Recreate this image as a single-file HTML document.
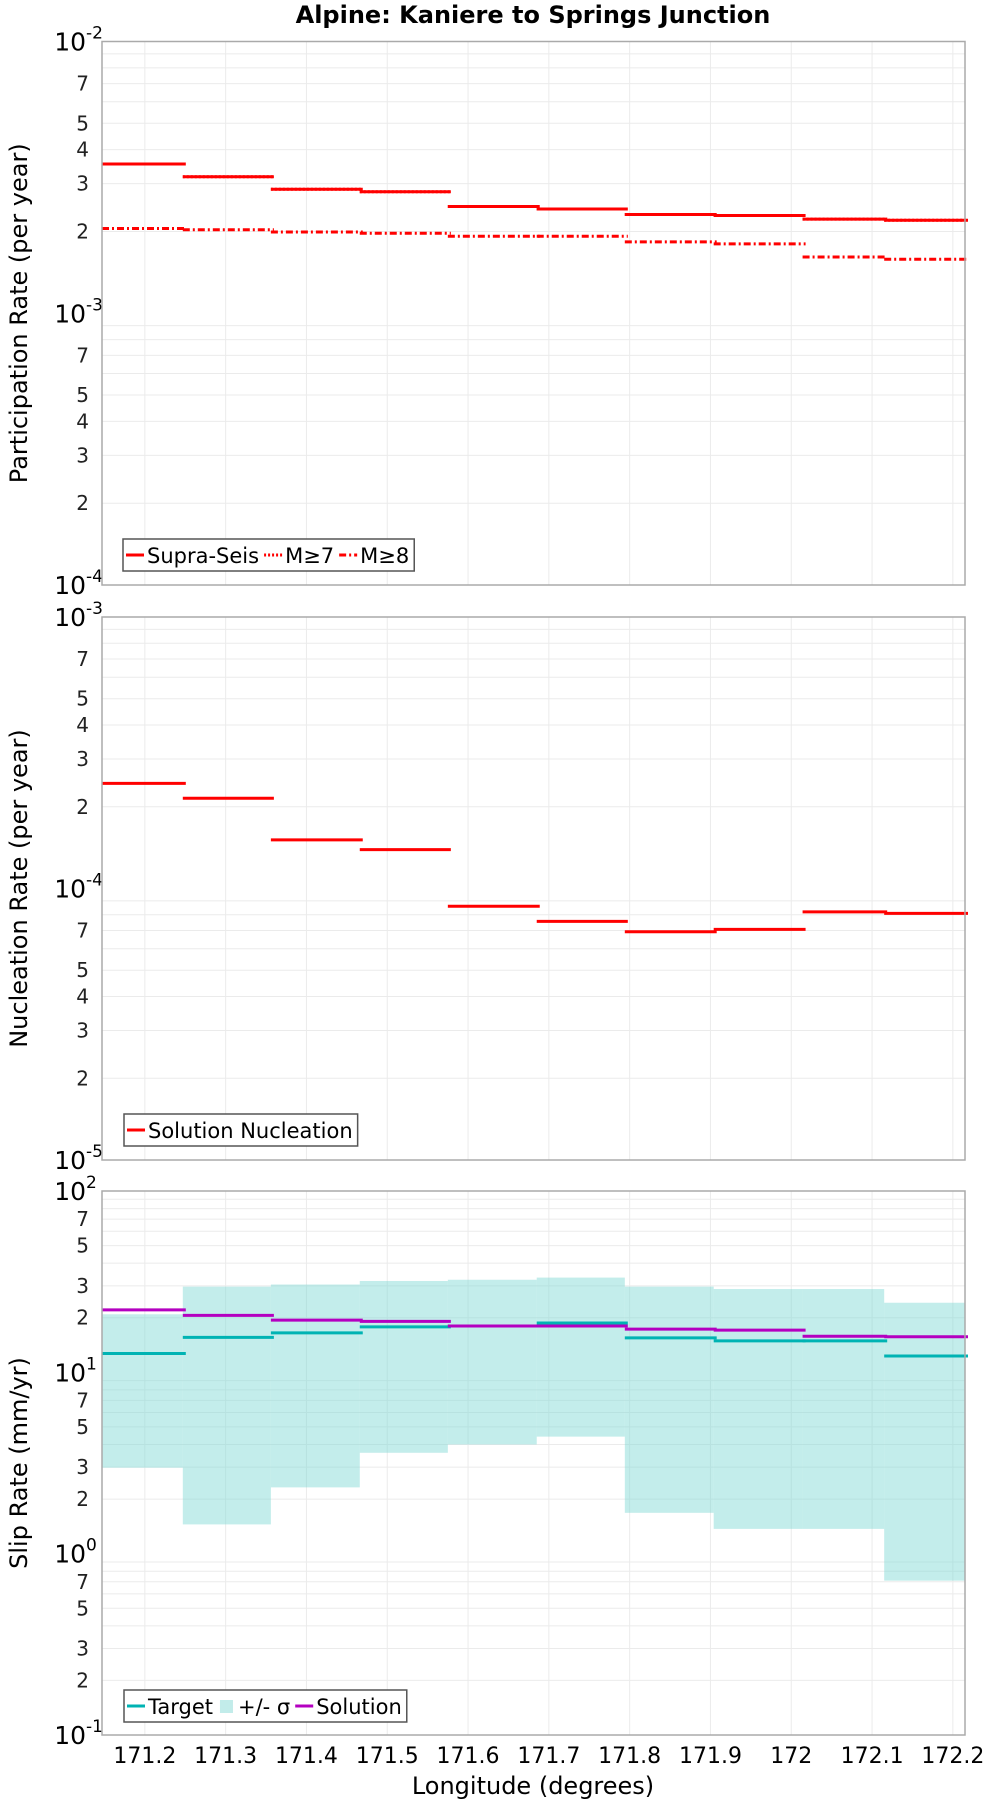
<!DOCTYPE html>
<html><head><meta charset="utf-8"><style>
html,body{margin:0;padding:0;background:#fff;}
svg{display:block;font-family:"DejaVu Sans","Liberation Sans",sans-serif;}
</style></head><body>
<svg id="chart" width="1000" height="1800" viewBox="0 0 1000 1800">
<text x="533" y="23" text-anchor="middle" font-size="24" font-weight="bold">Alpine: Kaniere to Springs Junction</text>
<g id="g"></g>
</svg>
<script>
const edges = [171.147,171.247,171.356,171.466,171.575,171.685,171.794,171.904,172.014,172.115,172.215];
const supraSeis = [3.54e-3,3.18e-3,2.86e-3,2.80e-3,2.47e-3,2.42e-3,2.31e-3,2.29e-3,2.22e-3,2.20e-3];
const m7 = [3.54e-3,3.18e-3,2.86e-3,2.80e-3,2.47e-3,2.42e-3,2.31e-3,2.29e-3,2.22e-3,2.20e-3];
const m8 = [2.05e-3,2.03e-3,1.99e-3,1.97e-3,1.92e-3,1.92e-3,1.83e-3,1.80e-3,1.61e-3,1.58e-3];
const nucleation = [2.44e-4,2.15e-4,1.51e-4,1.39e-4,8.6e-5,7.57e-5,6.93e-5,7.07e-5,8.2e-5,8.1e-5];
const target = [12.7,15.6,16.5,17.8,18.0,18.7,15.5,14.9,14.9,12.3];
const sigmaHi = [20.9,29.7,30.5,31.9,32.4,33.3,29.7,28.8,28.8,24.2];
const sigmaLo = [2.98,1.45,2.32,3.60,4.0,4.42,1.68,1.37,1.37,0.71];
const solution = [22.1,20.6,19.4,19.1,18.0,18.0,17.3,17.1,15.8,15.7];
const xTicks = [171.2,171.3,171.4,171.5,171.6,171.7,171.8,171.9,172,172.1,172.2];
const xTickLabels = ["171.2","171.3","171.4","171.5","171.6","171.7","171.8","171.9","172","172.1","172.2"];

const NS="http://www.w3.org/2000/svg";
const root=document.getElementById('g');
const L=102,R=965;
const xMin=171.147,xMax=172.215;
function xs(v){return L+(v-xMin)/(xMax-xMin)*(R-L);}
function mk(tag,attrs,parent){const e=document.createElementNS(NS,tag);for(const k in attrs)e.setAttribute(k,attrs[k]);(parent||root).appendChild(e);return e;}

function panel(top,bot,dMin,dMax,showFour,title,name){
  const g=mk('g',{});
  
  
  const ys=v=>bot-(Math.log10(v)-dMin)/(dMax-dMin)*(bot-top);
  for(const t of xTicks){const l=mk('line',{x1:xs(t),x2:xs(t),y1:top,y2:bot,stroke:'#ebebeb','stroke-width':1},g);
    }
  for(let d=dMin;d<dMax;d++){for(let m=2;m<=9;m++){const y=ys(m*Math.pow(10,d));
    const l=mk('line',{x1:L,x2:R,y1:y,y2:y,stroke:'#ebebeb','stroke-width':1},g);
    
    if(m==2||m==3||m==5||m==7||(m==4&&showFour)){const t=mk('text',{x:L-13,y:y+7,'text-anchor':'end','font-size':20,fill:'#222'},g);t.textContent=m;
      }}}
  for(let d=dMin;d<=dMax;d++){const y=ys(Math.pow(10,d));
    const t=mk('text',{x:86,y:y+9,'text-anchor':'end','font-size':25},g);t.textContent='10';
    
    const s=mk('text',{x:86,y:y-3,'text-anchor':'start','font-size':17},g);s.textContent=String(d);
    }
  const yt=mk('text',{x:0,y:0,'text-anchor':'middle','font-size':24,transform:`translate(27,${(top+bot)/2}) rotate(-90)`},g);yt.textContent=title;
  
  return {g,ys,top,bot};
}
function border(p){const r=mk('rect',{x:L,y:p.top,width:R-L,height:p.bot-p.top,fill:'none',stroke:'#aaa','stroke-width':1.5},p.g);
  }
function steps(p,vals,color,dash,name){
  for(let i=0;i<vals.length;i++){const y=p.ys(vals[i]);
    const a={x1:xs(edges[i]),x2:xs(edges[i+1])+3,y1:y,y2:y,stroke:color,'stroke-width':3};if(dash)a['stroke-dasharray']=dash;
    const l=mk('line',a,p.g);}
}
function legend(p,x,y,items){
  const r=mk('rect',{x:x,y:y,width:10,height:32,fill:'#fff',stroke:'#555','stroke-width':1.5},p.g);
  
  let cx=x+3;
  for(const it of items){
    if(it.box){const b=mk('rect',{x:cx+2,y:y+10,width:13,height:13,fill:it.color},p.g);cx+=20;}
    else{const a={x1:cx,x2:cx+18,y1:y+16,y2:y+16,stroke:it.color,'stroke-width':3};if(it.dash)a['stroke-dasharray']=it.dash;
      const l=mk('line',a,p.g);cx+=21;}
    const t=mk('text',{x:cx,y:y+24,'font-size':21},p.g);t.textContent=it.label;
    
    cx+=t.getComputedTextLength()+5;
  }
  r.setAttribute('width',cx-x);
}
const p1=panel(41.5,585,-4,-2,true,'Participation Rate (per year)','participation-panel');
steps(p1,supraSeis,'#f00',null,'supra-seis-step');
steps(p1,m7,'#f00','2,2','m7-step');
steps(p1,m8,'#f00','7,3,2,3','m8-step');
border(p1);
legend(p1,123,539,[{label:'Supra-Seis',color:'#f00'},{label:'M≥7',color:'#f00',dash:'2,2'},{label:'M≥8',color:'#f00',dash:'7,3,2,3'}]);
const p2=panel(617,1160,-5,-3,true,'Nucleation Rate (per year)','nucleation-panel');
steps(p2,nucleation,'#f00',null,'nucleation-step');
border(p2);
legend(p2,124,1114,[{label:'Solution Nucleation',color:'#f00'}]);
const p3=panel(1191,1735,-1,2,false,'Slip Rate (mm/yr)','slip-rate-panel');
for(let i=0;i<sigmaHi.length;i++){const y1=p3.ys(sigmaHi[i]),y2=p3.ys(sigmaLo[i]);
  const r=mk('rect',{x:xs(edges[i]),y:y1,width:xs(edges[i+1])-xs(edges[i]),height:y2-y1,fill:'#7fd8d5','fill-opacity':0.47},p3.g);
  }
steps(p3,target,'#00b3b3',null,'target-step');
steps(p3,solution,'#b400c0',null,'solution-step');
border(p3);
legend(p3,124,1690,[{label:'Target',color:'#00b3b3'},{label:'+/- σ',color:'#c2ecea',box:true},{label:'Solution',color:'#b400c0'}]);
for(let i=0;i<xTicks.length;i++){const t=mk('text',{x:xs(xTicks[i]),y:1763,'text-anchor':'middle','font-size':22});t.textContent=xTickLabels[i];
  }
const xt=mk('text',{x:533,y:1794,'text-anchor':'middle','font-size':24});xt.textContent='Longitude (degrees)';

</script>
</body></html>
